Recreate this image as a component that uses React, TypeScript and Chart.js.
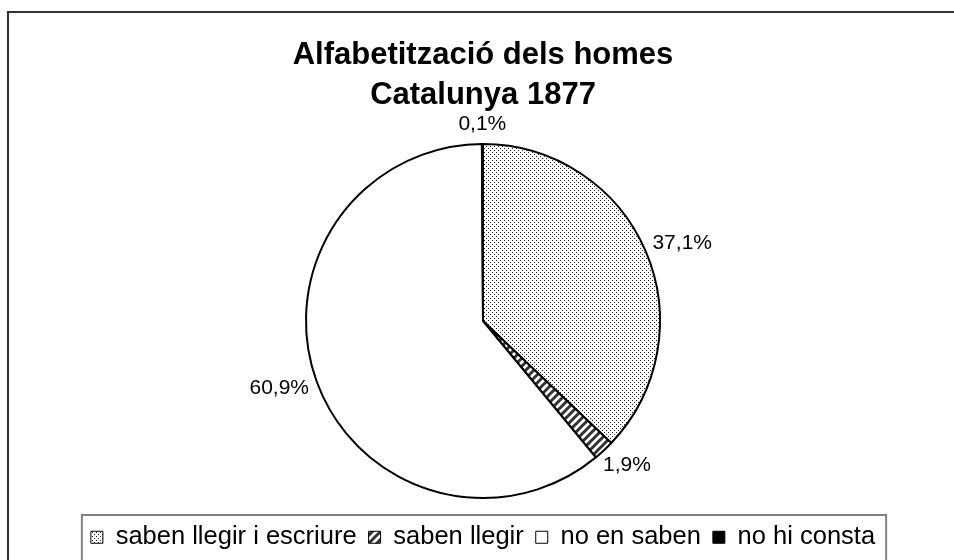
import React, { useEffect, useRef } from "react";
import { Chart, registerables } from "chart.js";

Chart.register(...registerables);

const TITLE_LINES = ["Alfabetització dels homes", "Catalunya 1877"];
const CATEGORIES = ["saben llegir i escriure", "saben llegir", "no en saben", "no hi consta"];
const VALUES = [37.1, 1.9, 60.9, 0.1];

const FONT = "'Liberation Sans', Arial, Helvetica, sans-serif";

function makeDots(): CanvasPattern | string {
  const c = document.createElement("canvas");
  c.width = 4;
  c.height = 4;
  const g = c.getContext("2d");
  if (!g) return "#ddd";
  g.fillStyle = "#fff";
  g.fillRect(0, 0, 4, 4);
  g.fillStyle = "#222";
  g.fillRect(0, 0, 1, 1);
  g.fillRect(2, 2, 1, 1);
  return g.createPattern(c, "repeat") || "#ddd";
}

function makeStripes(): CanvasPattern | string {
  const s = 8;
  const c = document.createElement("canvas");
  c.width = s;
  c.height = s;
  const g = c.getContext("2d");
  if (!g) return "#888";
  g.fillStyle = "#fff";
  g.fillRect(0, 0, s, s);
  g.strokeStyle = "#333";
  g.lineWidth = 3;
  g.beginPath();
  g.moveTo(-2, s + 2);
  g.lineTo(s + 2, -2);
  g.moveTo(-2, 2);
  g.lineTo(2, -2);
  g.moveTo(s - 2, s + 2);
  g.lineTo(s + 2, s - 2);
  g.stroke();
  return g.createPattern(c, "repeat") || "#888";
}

const frameBorder = {
  id: "frameBorder",
  afterDraw(chart: any) {
    const ctx = chart.ctx;
    ctx.save();
    ctx.strokeStyle = "#333";
    ctx.lineWidth = 2;
    ctx.strokeRect(8, 12, 1000, 600);
    // legend frame
    const lg = chart.legend;
    if (lg && lg.legendHitBoxes && lg.legendHitBoxes.length) {
      let l = Infinity;
      let r = -Infinity;
      lg.legendHitBoxes.forEach((hb: any) => {
        l = Math.min(l, hb.left);
        r = Math.max(r, hb.left + hb.width);
      });
      ctx.strokeStyle = "#808080";
      ctx.lineWidth = 2;
      ctx.strokeRect(l - 9, lg.top + 2.5, r - l + 20, 80);
    }
    ctx.restore();
  },
};

const sliceLabels = {
  id: "sliceLabels",
  afterDatasetsDraw(chart: any) {
    const ctx = chart.ctx;
    const meta = chart.getDatasetMeta(0);
    const data = chart.data.datasets[0].data as number[];
    ctx.save();
    ctx.font = `21px ${FONT}`;
    ctx.fillStyle = "#000";
    ctx.textAlign = "center";
    ctx.textBaseline = "middle";
    meta.data.forEach((arc: any, i: number) => {
      const { x, y, startAngle, endAngle, outerRadius } = arc.getProps(
        ["x", "y", "startAngle", "endAngle", "outerRadius"],
        true
      );
      const mid = (startAngle + endAngle) / 2;
      const dx = Math.cos(mid);
      const dy = Math.sin(mid);
      const text = data[i].toFixed(1).replace(".", ",") + "%";
      const w = ctx.measureText(text).width;
      const h = 20;
      const ax = x + dx * (outerRadius + 10);
      const ay = y + dy * (outerRadius + 10);
      ctx.fillText(text, ax + (dx * w) / 2, ay + (dy * h) / 2);
    });
    ctx.restore();
  },
};

export default function App() {
  const ref = useRef<HTMLCanvasElement | null>(null);

  useEffect(() => {
    document.body.style.margin = "0";
    const canvas = ref.current;
    if (!canvas) return;
    const dots = makeDots();
    const stripes = makeStripes();
    const chart = new Chart(canvas, {
      type: "pie",
      data: {
        labels: CATEGORIES,
        datasets: [
          {
            data: VALUES,
            backgroundColor: [dots, stripes, "#ffffff", "#000000"] as any,
            borderColor: "#000",
            borderWidth: 2,
            radius: 177,
          } as any,
        ],
      },
      options: {
        responsive: false,
        animation: false,
        events: [],
        layout: { padding: { left: 12, right: 0, top: 0, bottom: 0 } },
        plugins: {
          title: {
            display: true,
            text: TITLE_LINES,
            color: "#000",
            font: { family: FONT, size: 31, weight: "bold", lineHeight: 40 / 31 },
            padding: { top: 35, bottom: 14.5 },
          },
          legend: {
            position: "bottom",
            labels: {
              color: "#000",
              font: { family: FONT, size: 25.5 },
              boxWidth: 12,
              boxHeight: 12,
              padding: 12,
              generateLabels: (c: any) => {
                const items = (Chart as any).overrides.pie.plugins.legend.labels.generateLabels(c);
                return items.map((it: any) => ({ ...it, lineWidth: 1, strokeStyle: "#000" }));
              },
            },
          },
          tooltip: { enabled: false },
        },
      } as any,
      plugins: [sliceLabels, frameBorder],
    });
    return () => chart.destroy();
  }, []);

  return (
    <div style={{ width: 954, height: 560, background: "#fff" }}>
      <canvas ref={ref} width={954} height={560} style={{ display: "block" }} />
    </div>
  );
}
